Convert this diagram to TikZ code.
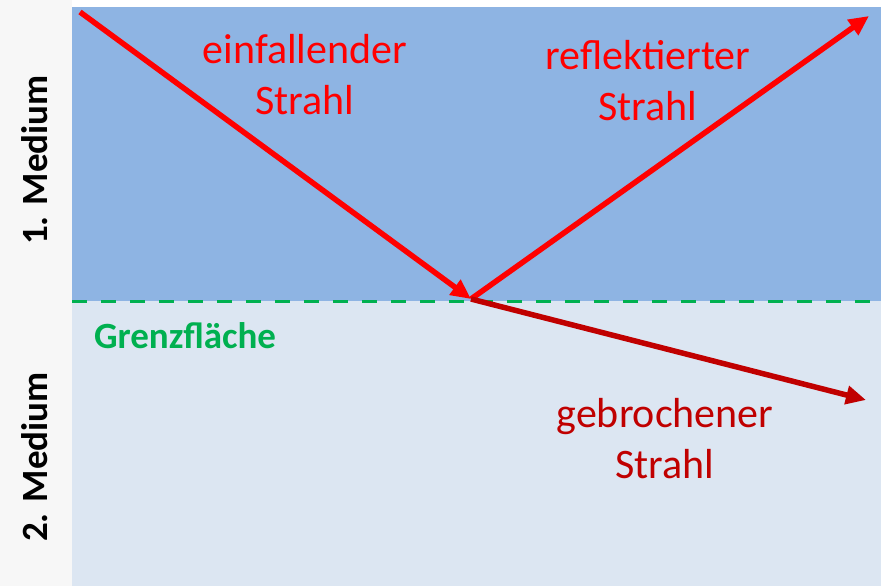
\documentclass[tikz,border=0pt]{standalone}
\usepackage{fontspec}
\setmainfont{Carlito}
\usetikzlibrary{arrows.meta,positioning}

\begin{document}
\begin{tikzpicture}[x=1pt,y=-1pt,>={Triangle[length=20pt,width=18pt]},
                    line width=5.5pt]
  \tikzstyle{every node}=[font=\fontsize{42}{51}\selectfont,align=center]
  \tikzstyle{ray}=[->,shorten >=0pt,color=red]
  \tikzstyle{medium}=[rotate=90,font=\fontsize{37}{44}\selectfont\bfseries]
  \definecolor{obenblau}{HTML}{8EB4E3}
  \definecolor{untenblau}{HTML}{DCE6F2}
  \definecolor{dunkelrot}{HTML}{C00000}
  \definecolor{gruen}{HTML}{00B050}

  \useasboundingbox (0,0) rectangle (881,586);
  \fill[gray!6] (0,0) rectangle (72,586);
  \fill[obenblau] (72,7) rectangle (881,301);
  \fill[untenblau] (72,301) rectangle (881,586);

  \coordinate (L) at (72,301);
  \coordinate (R) at (881,301);
  \coordinate (S) at (80,12);
  \coordinate (P) at (471,299);
  \coordinate (E) at (869,16);
  \coordinate (G) at (866,400);

  \draw[gruen,line width=3pt,dash pattern=on 15pt off 14pt] (L) -- (R);

  \draw[ray] (S) -- (P);
  \draw[ray] (P) -- (E);
  \draw[ray,dunkelrot] (P) -- (G);

  \node[red]       (einfall) at (305,75)  {einfallender\\Strahl};
  \node[red]       (reflex)  at (648,81)  {reflektierter\\Strahl};
  \node[dunkelrot] (gebro)   at (665,439) {gebrochener\\Strahl};
  \node[gruen,font=\fontsize{37}{44}\selectfont\bfseries,anchor=west]
                   (grenz)   at (88,336)  {Grenzfläche};

  \node[medium] (med1) at (35,160) {1. Medium};
  \node[medium] (med2) at (35,457) {2. Medium};
\end{tikzpicture}
\end{document}
